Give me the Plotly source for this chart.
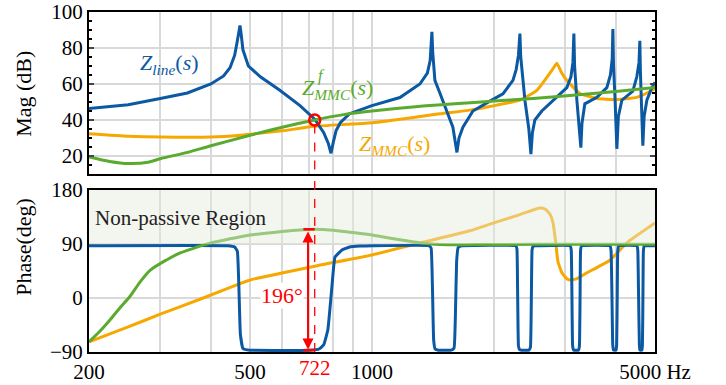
import math
import plotly.graph_objects as go

# ---------------- data ----------------
# Z_line magnitude (dB)
line_mag_f = [200, 250, 300, 350, 400, 430, 446, 458, 465, 470, 472, 475, 480, 495, 530, 592, 664, 722,
              760, 780, 792, 803, 815, 835, 880, 1000, 1172, 1313, 1370, 1392, 1402, 1406, 1412, 1430,
              1471, 1540, 1584, 1621, 1640, 1677, 1775, 1955, 2106, 2229, 2270, 2300, 2319, 2330, 2386,
              2440, 2469, 2490, 2525, 2627, 2861, 3029, 3100, 3135, 3152, 3165, 3206, 3245, 3280, 3300,
              3355, 3592, 3802, 3880, 3920, 3935, 3950, 3985, 4025, 4060, 4141, 4408, 4509, 4565, 4587,
              4600, 4640, 4666, 4700, 4774, 4911, 5000]
line_mag = [46.4, 48.5, 52, 55, 60, 64.5, 69, 76, 84, 90, 92.5, 88, 79, 70, 64, 56.5, 48, 40.5,
            33, 27, 21.5, 28, 34, 38.5, 43.5, 48, 52.5, 60, 66, 73, 82, 89, 78, 62,
            55, 43, 36, 22, 30, 36, 45, 50.5, 54.5, 62, 68, 76, 88, 75, 51,
            35, 21, 33, 40, 45, 52.6, 58, 64, 72, 88, 70, 51, 38, 24.6, 38,
            49, 52.6, 58, 65, 74, 90.5, 70, 51, 24, 42, 51, 56, 64, 72, 84,
            68, 45, 25.7, 42, 51, 58, 61]

# Z_MMC magnitude (dB)
mmc_mag_f = [200, 250, 300, 400, 472, 600, 722, 1000, 1471, 1745, 1955, 2319, 2554, 2700, 2800, 2861,
             2944, 3029, 3262, 3592, 4025, 4509, 4911, 5000]
mmc_mag = [32.4, 31, 30.5, 30.5, 31.5, 34, 36.5, 38.5, 43.5, 45.5, 47.5, 51, 56.4, 63.5, 68.5, 71.5,
           66, 62, 54.7, 52, 51.4, 52.6, 56.4, 57.5]

# Z^f_MMC magnitude (dB)
fmmc_mag_f = [200, 225, 250, 280, 300, 350, 400, 500, 600, 722, 850, 1000, 1300, 1600, 2000, 2500,
              3081, 4000, 5000]
fmmc_mag = [19.5, 17, 15.8, 16.5, 18.5, 22, 25.7, 31.5, 36, 40, 43, 45, 47.5, 49, 50.5, 52,
            53.6, 55.8, 58]

# Z_line phase (deg)
line_ph_f = [200, 440, 458, 465, 469, 473, 480, 500, 700, 740, 760, 778, 796, 810, 843, 880, 934, 1000,
             1385, 1400, 1410, 1420, 1432, 1460, 1570, 1595, 1608, 1618, 1632, 1665,
             2265, 2280, 2290, 2300, 2315, 2340, 2440, 2462, 2475, 2485, 2500, 2525,
             3085, 3105, 3118, 3130, 3150, 3235, 3253, 3265, 3275, 3295,
             3875, 3895, 3915, 3932, 3950, 4005, 4020, 4033, 4045, 4065,
             4515, 4535, 4555, 4575, 4590, 4640, 4655, 4668, 4680, 4700, 5000]
line_ph = [87, 87, 85, 78, 20, -60, -84, -87, -87, -85, -78, -53, 18, 68, 80, 85, 86.5, 87,
           87, 83, 20, -70, -85, -87, -87, -83, -20, 60, 84, 87,
           87, 82, 0, -80, -86, -87, -87, -82, 0, 80, 86, 87,
           87, 80, 0, -80, -87, -87, -80, 0, 80, 87,
           87, 78, 0, -78, -87, -87, -78, 0, 78, 87,
           87, 78, 0, -78, -87, -87, -78, 0, 78, 87, 87]

# Z_MMC phase (deg)
mmc_ph_f = [200, 250, 300, 383, 472, 500, 722, 1000, 1313, 1745, 1955, 2319, 2598, 2680, 2750, 2800,
            2840, 2880, 2944, 3029, 3081, 3200, 3394, 3868, 4260, 5000]
mmc_ph = [-73, -48, -27, 0, 24, 30, 53, 71.7, 91.7, 112, 123, 139, 150, 148, 140, 125,
          95, 60, 42, 32, 30, 32, 42, 63, 92, 125]

# Z^f_MMC phase (deg)
fmmc_ph_f = [200, 213, 225, 238, 252, 267, 283, 310, 336, 370, 398, 450, 500, 600, 664, 722, 800, 900,
             1000, 1172, 1313, 1471, 1800, 2500, 5000]
fmmc_ph = [-73, -55, -37, -17, 2, 26, 46, 63, 75, 85, 91.5, 99, 105, 111, 113.5, 114.5, 113, 109,
           105, 97, 92, 89, 89, 89.5, 89.5]

# marked point / annotation
f_cross = 722
mag_cross = 40
f_arrow = 695
f_bar = [677, 722]
ph_top = 114.5
ph_bot = -87

grid_f = [200, 300, 400, 500, 600, 700, 800, 900, 1000, 2000, 3000, 4000, 5000]
grid_txt = ['200', '', '', '500', '', '', '', '', '1000', '', '', '', '5000 Hz']
mag_ticks = [20, 40, 60, 80, 100]
ph_ticks = [-90, 0, 90, 180]
ph_ticktxt = ['\u221290', '0', '90', '180']

# ---------------- style ----------------
BLUE = '#0B59A3'
ORANGE = '#F7A800'
GREEN = '#5BAA30'
RED = '#FF0000'
GRID = '#D9D9D9'
FONT = 'Liberation Serif, Times New Roman, serif'

fig = go.Figure()

fig.add_trace(go.Scatter(x=mmc_mag_f, y=mmc_mag, mode='lines', line=dict(color=ORANGE, width=3, shape='spline', smoothing=0.4),
                         xaxis='x', yaxis='y'))
fig.add_trace(go.Scatter(x=line_mag_f, y=line_mag, mode='lines', line=dict(color=BLUE, width=3),
                         xaxis='x', yaxis='y'))
fig.add_trace(go.Scatter(x=fmmc_mag_f, y=fmmc_mag, mode='lines', line=dict(color=GREEN, width=3, shape='spline', smoothing=0.8),
                         xaxis='x', yaxis='y'))
fig.add_trace(go.Scatter(x=[f_cross], y=[mag_cross], mode='markers',
                         marker=dict(symbol='circle-open', size=11, color=RED, line=dict(width=2.5)),
                         xaxis='x', yaxis='y'))

fig.add_trace(go.Scatter(x=mmc_ph_f, y=mmc_ph, mode='lines', line=dict(color=ORANGE, width=3, shape='spline', smoothing=0.4),
                         xaxis='x2', yaxis='y2'))
fig.add_trace(go.Scatter(x=line_ph_f, y=line_ph, mode='lines', line=dict(color=BLUE, width=3, shape='spline', smoothing=0.3),
                         xaxis='x2', yaxis='y2'))
fig.add_trace(go.Scatter(x=fmmc_ph_f, y=fmmc_ph, mode='lines', line=dict(color=GREEN, width=3, shape='spline', smoothing=0.8),
                         xaxis='x2', yaxis='y2'))

top_dom = [0.5235, 1.0]
bot_dom = [0.0, 0.4765]

axis_common = dict(showline=True, linewidth=2, linecolor='black', mirror=True, automargin=False,
                   tickfont=dict(family=FONT, size=21, color='black'), zeroline=False)

shapes = [
    dict(type='rect', xref='x2 domain', yref='y2', x0=0, x1=1, y0=90, y1=180,
         fillcolor='rgba(229,236,218,0.45)', line=dict(width=0), layer='above'),
    dict(type='line', xref='x', yref='y', x0=f_cross, x1=f_cross, y0=mag_cross - 2.5, y1=10,
         line=dict(color=RED, width=1.3, dash='dash')),
    dict(type='line', xref='x2', yref='paper', x0=f_cross, x1=f_cross, y0=0, y1=top_dom[0],
         line=dict(color=RED, width=1.3, dash='dash'), layer='above'),
    dict(type='line', xref='x2', yref='y2', x0=f_bar[0], x1=f_bar[1], y0=ph_top, y1=ph_top,
         line=dict(color=RED, width=2.5), layer='above'),
    dict(type='line', xref='x2', yref='y2', x0=f_bar[0], x1=f_bar[1], y0=ph_bot, y1=ph_bot,
         line=dict(color=RED, width=2.5), layer='above'),
]

L = math.log10
annotations = [
    dict(xref='x2', yref='y2', x=L(f_arrow), y=ph_bot + 1, axref='x2', ayref='y2', ax=L(f_arrow), ay=ph_top - 1,
         text='', showarrow=True, arrowhead=2, arrowside='end+start', arrowsize=1.1, arrowwidth=2,
         arrowcolor=RED, standoff=0, startstandoff=0),
    dict(xref='x2', yref='y2', x=L(599), y=5, text='196\u00b0', showarrow=False, bgcolor='white',
         font=dict(family=FONT, size=22, color=RED), borderpad=0),
    dict(xref='x2', yref='y2', x=L(205), y=133, xanchor='left', text='Non-passive Region', showarrow=False,
         font=dict(family=FONT, size=21, color='#222222')),
    dict(xref='x', yref='y', x=L(317), y=71, text='<i>Z</i><sub><i>line</i></sub>(<i>s</i>)', showarrow=False,
         font=dict(family=FONT, size=22, color=BLUE)),
    dict(xref='x', yref='y', x=L(664), y=57, xanchor='left',
         text='<i>Z</i><sub><i>MMC</i></sub>(<i>s</i>)', showarrow=False,
         font=dict(family=FONT, size=22, color=GREEN)),
    dict(xref='x', yref='y', x=L(728), y=64.5, xanchor='left', text='<i>f</i>', showarrow=False,
         font=dict(family=FONT, size=16, color=GREEN)),
    dict(xref='x', yref='y', x=L(920), y=26, xanchor='left',
         text='<i>Z</i><sub><i>MMC</i></sub>(<i>s</i>)', showarrow=False,
         font=dict(family=FONT, size=22, color=ORANGE)),
    dict(xref='x2', yref='paper', x=L(f_cross), y=0, yanchor='top', yshift=-2, text='722', showarrow=False,
         font=dict(family=FONT, size=21, color=RED)),
    dict(xref='paper', yref='paper', x=-0.115, y=0.759, xanchor='center', yanchor='middle',
         text='Mag (dB)', textangle=-90, showarrow=False,
         font=dict(family=FONT, size=22, color='black')),
    dict(xref='paper', yref='paper', x=-0.115, y=0.309, xanchor='center', yanchor='middle',
         text='Phase(deg)', textangle=-90, showarrow=False,
         font=dict(family=FONT, size=22, color='black')),
]

fig.update_layout(
    width=726, height=385, autosize=False,
    margin=dict(l=89, r=71, t=12, b=33, autoexpand=False),
    paper_bgcolor='white', plot_bgcolor='white',
    showlegend=False,
    font=dict(family=FONT, color='black'),
    xaxis=dict(domain=[0, 1], anchor='y', type='log', range=[L(200), L(5000)], matches='x2',
               tickmode='array', tickvals=grid_f, showticklabels=False, showgrid=True,
               gridcolor=GRID, gridwidth=1.5, ticks='', **axis_common),
    yaxis=dict(domain=top_dom, anchor='x', range=[10, 100], tickmode='array', tickvals=mag_ticks,
               showgrid=True, gridcolor=GRID, gridwidth=1.5, ticks='inside', ticklen=5, tickwidth=1.5,
               minor=dict(tickmode='linear', tick0=0, dtick=5, ticks='inside', ticklen=3, tickwidth=1.5,
                          tickcolor='black', showgrid=False),
               **{**axis_common, 'mirror': 'ticks'}),
    xaxis2=dict(domain=[0, 1], anchor='y2', type='log', range=[L(200), L(5000)],
                tickmode='array', tickvals=grid_f, ticktext=grid_txt, showgrid=True,
                gridcolor=GRID, gridwidth=1.5, ticks='', ticklabelstandoff=0, **axis_common),
    yaxis2=dict(domain=bot_dom, anchor='x2', range=[-90, 180], tickmode='array', tickvals=ph_ticks,
                ticktext=ph_ticktxt, showgrid=True, gridcolor=GRID, gridwidth=1.5, ticks='',
                **axis_common),
    shapes=shapes,
    annotations=annotations,
)

fig.write_html('out.html')
